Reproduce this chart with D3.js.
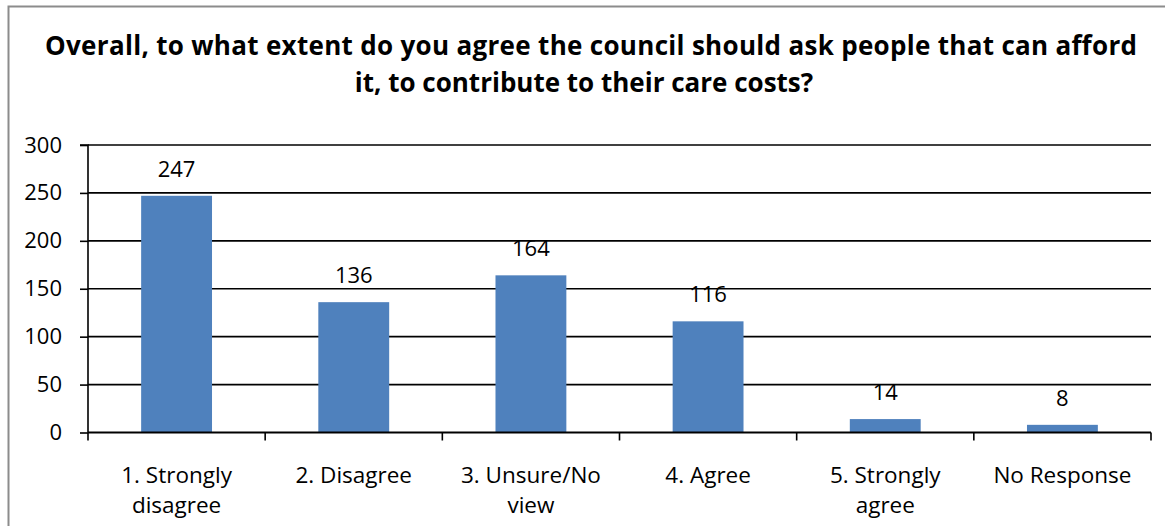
<!DOCTYPE html>
<html>
<head>
<meta charset="utf-8">
<script src="https://cdn.jsdelivr.net/npm/d3@7"></script>
<style>
  html, body { margin: 0; padding: 0; background: #fff; }
  svg { display: block; font-family: "Open Sans", "Noto Sans", sans-serif; }
</style>
</head>
<body>
<svg id="chart" width="1165" height="526"></svg>
<script>
// Survey responses
const categories = ["1. Strongly disagree", "2. Disagree", "3. Unsure/No view", "4. Agree", "5. Strongly agree", "No Response"];
const categoryLines = [["1. Strongly", "disagree"], ["2. Disagree"], ["3. Unsure/No", "view"], ["4. Agree"], ["5. Strongly", "agree"], ["No Response"]];
const counts = [247, 136, 164, 116, 14, 8];
const yTicks = [0, 50, 100, 150, 200, 250, 300];
const titleLines = [
  "Overall, to what extent do you agree the council should ask people that can afford",
  "it, to contribute to their care costs?"
];

const svg = d3.select("#chart");
const margin = { left: 88, right: 1151, top: 145, bottom: 432.5 };

// Outer chart frame
svg.append("rect")
  .attr("x", 8.5).attr("y", 6.5)
  .attr("width", 1180).attr("height", 540)
  .attr("fill", "#fff").attr("stroke", "#8c8c8c").attr("stroke-width", 2);

// Title
const titleX = [591, 584];
svg.append("g").selectAll("text").data(titleLines).join("text")
  .attr("x", (d, i) => titleX[i]).attr("y", (d, i) => 55 + i * 37)
  .attr("text-anchor", "middle")
  .attr("font-weight", "bold")
  .attr("font-size", 26)
  .attr("textLength", (d, i) => i === 0 ? 1092 : null)
  .attr("fill", "#000")
  .text(d => d);

const x = d3.scaleBand().domain(categories).range([margin.left, margin.right]).paddingInner(0.6).paddingOuter(0.3);
const y = d3.scaleLinear().domain([0, 300]).range([margin.bottom, margin.top]);

// Horizontal gridlines
svg.append("g").selectAll("line").data(yTicks.filter(t => t > 0)).join("line")
  .attr("x1", margin.left).attr("x2", margin.right)
  .attr("y1", d => y(d)).attr("y2", d => y(d))
  .attr("stroke", "#000").attr("stroke-width", 1.6);

// Bars
svg.append("g").selectAll("rect").data(counts).join("rect")
  .attr("x", (d, i) => x(categories[i]))
  .attr("width", x.bandwidth())
  .attr("y", d => y(d))
  .attr("height", d => y(0) - y(d))
  .attr("fill", "#4f81bd");

// Value labels
svg.append("g").selectAll("text").data(counts).join("text")
  .attr("x", (d, i) => x(categories[i]) + x.bandwidth() / 2)
  .attr("y", d => y(d) - 19)
  .attr("text-anchor", "middle")
  .attr("font-size", 22)
  .attr("fill", "#000")
  .text(d => d);

// Y axis
const yAxis = d3.axisLeft(y).tickValues(yTicks).tickSize(8).tickPadding(18);
const gy = svg.append("g").attr("transform", `translate(${margin.left},0)`).call(yAxis);
gy.select(".domain").attr("stroke", "#000").attr("stroke-width", 1.6).attr("d", `M-8,${y(300)}H0V${y(0)}`);
gy.selectAll(".tick line").attr("stroke", "#000").attr("stroke-width", 1.6);
gy.selectAll(".tick text").attr("font-size", 22).attr("font-family", "Open Sans, sans-serif").attr("fill", "#000");

// X axis with category boundary ticks
const step = (margin.right - margin.left) / categories.length;
svg.append("line")
  .attr("x1", margin.left).attr("x2", margin.right)
  .attr("y1", y(0)).attr("y2", y(0))
  .attr("stroke", "#000").attr("stroke-width", 2);
svg.append("g").selectAll("line").data(d3.range(categories.length + 1)).join("line")
  .attr("x1", i => margin.left + i * step).attr("x2", i => margin.left + i * step)
  .attr("y1", y(0)).attr("y2", y(0) + 8)
  .attr("stroke", "#000").attr("stroke-width", 1.6);

// Category labels
const lbl = svg.append("g").selectAll("text").data(categories).join("text")
  .attr("x", d => x(d) + x.bandwidth() / 2)
  .attr("y", 483)
  .attr("text-anchor", "middle")
  .attr("font-size", 22.5)
  .attr("fill", "#000");
lbl.selectAll("tspan").data((d, i) => categoryLines[i]).join("tspan")
  .attr("x", function () { return d3.select(this.parentNode).attr("x"); })
  .attr("dy", (d, i) => i === 0 ? 0 : 30)
  .text(d => d);
</script>
</body>
</html>
